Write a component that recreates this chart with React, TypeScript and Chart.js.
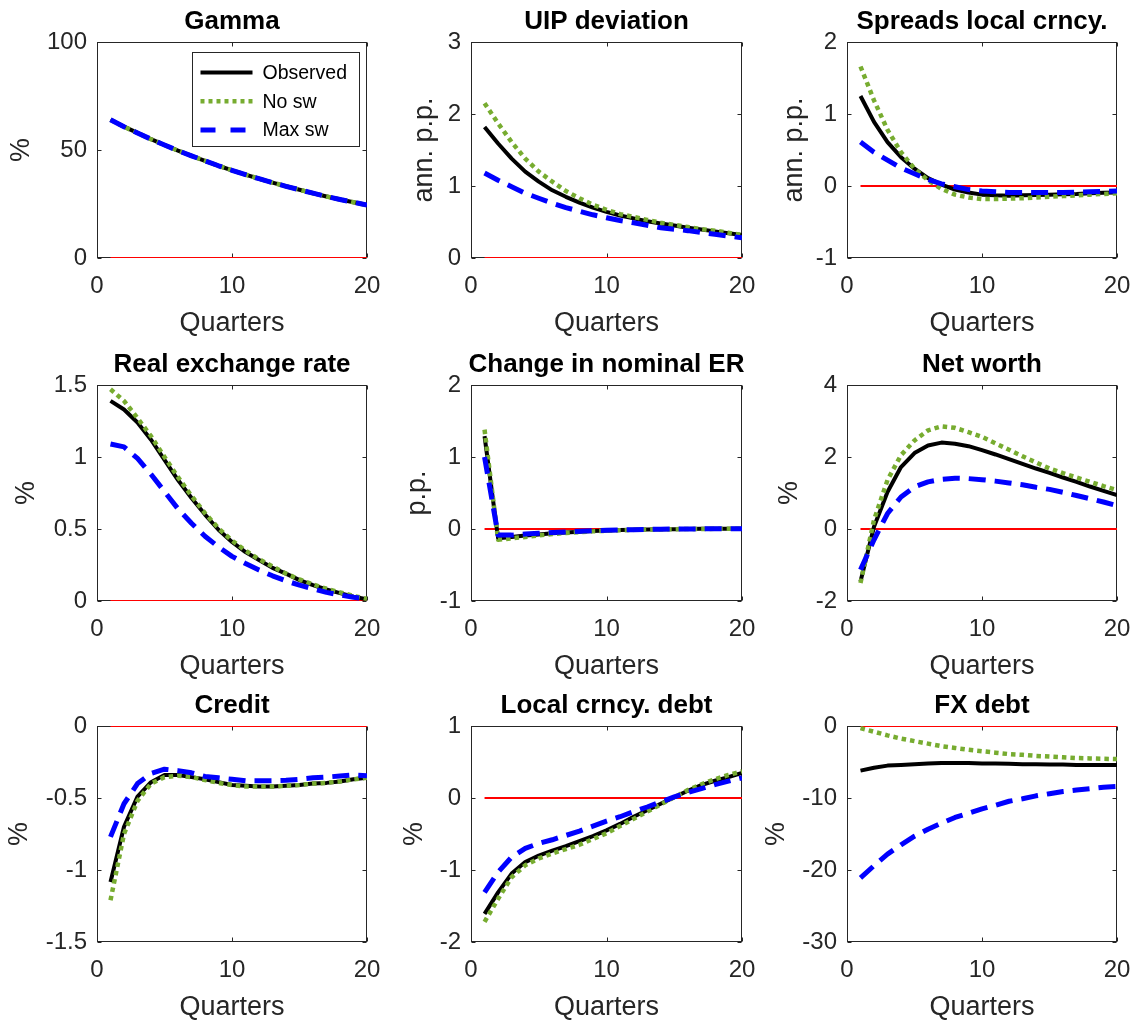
import React, { useEffect, useRef } from "react";
import { Chart, registerables } from "chart.js";

Chart.register(...registerables);

const FONT = "'Liberation Sans', Arial, Helvetica, sans-serif";
Chart.defaults.font.family = FONT;

// ---------------- DATA ----------------
const quarters = [1, 2, 3, 4, 5, 6, 7, 8, 9, 10, 11, 12, 13, 14, 15, 16, 17, 18, 19, 20];
const seriesLabels = ["Observed", "No sw", "Max sw"];

const gammaObserved = [64.0, 60.8, 57.9, 55.0, 52.3, 49.7, 47.3, 45.0, 42.7, 40.6, 38.6, 36.7, 34.9, 33.2, 31.6, 30.0, 28.5, 27.1, 25.8, 24.5];
const gammaNoSw = [64.0, 60.8, 57.9, 55.0, 52.3, 49.7, 47.3, 45.0, 42.7, 40.6, 38.6, 36.7, 34.9, 33.2, 31.6, 30.0, 28.5, 27.1, 25.8, 24.5];
const gammaMaxSw = [64.0, 60.8, 57.9, 55.0, 52.3, 49.7, 47.3, 45.0, 42.7, 40.6, 38.6, 36.7, 34.9, 33.2, 31.6, 30.0, 28.5, 27.1, 25.8, 24.5];

const uipObserved = [1.82, 1.59, 1.38, 1.2, 1.06, 0.94, 0.85, 0.77, 0.7, 0.64, 0.59, 0.55, 0.51, 0.48, 0.45, 0.42, 0.395, 0.37, 0.345, 0.32];
const uipNoSw = [2.15, 1.87, 1.61, 1.38, 1.2, 1.06, 0.93, 0.83, 0.74, 0.67, 0.61, 0.57, 0.53, 0.49, 0.46, 0.43, 0.4, 0.38, 0.35, 0.32];
const uipMaxSw = [1.18, 1.08, 0.99, 0.9, 0.83, 0.76, 0.7, 0.65, 0.6, 0.56, 0.52, 0.49, 0.455, 0.42, 0.4, 0.38, 0.355, 0.33, 0.305, 0.28];

const spreadObserved = [1.25, 0.89, 0.61, 0.4, 0.24, 0.11, 0.02, -0.05, -0.09, -0.12, -0.13, -0.135, -0.13, -0.125, -0.12, -0.115, -0.11, -0.1, -0.095, -0.09];
const spreadNoSw = [1.66, 1.19, 0.78, 0.47, 0.24, 0.08, -0.04, -0.12, -0.16, -0.18, -0.18, -0.175, -0.17, -0.16, -0.15, -0.14, -0.13, -0.12, -0.11, -0.1];
const spreadMaxSw = [0.61, 0.47, 0.36, 0.25, 0.17, 0.09, 0.03, -0.01, -0.05, -0.07, -0.08, -0.09, -0.09, -0.09, -0.09, -0.09, -0.085, -0.08, -0.075, -0.07];

const rerObserved = [1.39, 1.33, 1.24, 1.12, 0.98, 0.84, 0.715, 0.6, 0.495, 0.41, 0.34, 0.285, 0.23, 0.19, 0.145, 0.11, 0.08, 0.055, 0.03, 0.012];
const rerNoSw = [1.47, 1.39, 1.27, 1.145, 1.0, 0.86, 0.73, 0.61, 0.505, 0.42, 0.35, 0.29, 0.24, 0.19, 0.15, 0.115, 0.085, 0.06, 0.035, 0.015];
const rerMaxSw = [1.09, 1.07, 0.99, 0.88, 0.76, 0.64, 0.54, 0.45, 0.375, 0.31, 0.26, 0.215, 0.175, 0.14, 0.11, 0.085, 0.06, 0.042, 0.026, 0.013];

const nerObserved = [1.29, -0.13, -0.11, -0.09, -0.075, -0.06, -0.047, -0.037, -0.028, -0.02, -0.014, -0.01, -0.007, -0.004, -0.002, 0, 0.002, 0.003, 0.004, 0.004];
const nerNoSw = [1.38, -0.15, -0.13, -0.11, -0.09, -0.07, -0.055, -0.043, -0.033, -0.025, -0.018, -0.012, -0.008, -0.005, -0.002, 0, 0.001, 0.002, 0.003, 0.003];
const nerMaxSw = [1.0, -0.085, -0.085, -0.07, -0.06, -0.05, -0.04, -0.032, -0.025, -0.018, -0.013, -0.009, -0.006, -0.003, -0.001, 0.001, 0.002, 0.003, 0.003, 0.003];

const nwObserved = [-1.46, 0.06, 1.03, 1.72, 2.11, 2.32, 2.4, 2.37, 2.3, 2.19, 2.07, 1.94, 1.81, 1.68, 1.56, 1.43, 1.31, 1.18, 1.06, 0.94];
const nwNoSw = [-1.5, 0.25, 1.36, 2.05, 2.46, 2.74, 2.85, 2.81, 2.69, 2.56, 2.38, 2.2, 2.02, 1.85, 1.68, 1.55, 1.43, 1.31, 1.19, 1.08];
const nwMaxSw = [-1.13, -0.3, 0.43, 0.89, 1.17, 1.31, 1.38, 1.41, 1.4, 1.37, 1.33, 1.28, 1.23, 1.16, 1.1, 1.02, 0.93, 0.84, 0.75, 0.65];

const creditObserved = [-1.083, -0.7, -0.49, -0.39, -0.34, -0.34, -0.355, -0.37, -0.39, -0.41, -0.415, -0.42, -0.42, -0.415, -0.41, -0.4, -0.395, -0.385, -0.37, -0.36];
const creditNoSw = [-1.21, -0.75, -0.52, -0.4, -0.355, -0.345, -0.355, -0.375, -0.395, -0.41, -0.42, -0.42, -0.42, -0.415, -0.41, -0.4, -0.395, -0.385, -0.37, -0.36];
const creditMaxSw = [-0.77, -0.54, -0.4, -0.33, -0.3, -0.31, -0.325, -0.35, -0.36, -0.37, -0.38, -0.38, -0.38, -0.377, -0.37, -0.36, -0.355, -0.347, -0.34, -0.345];

const lcdObserved = [-1.61, -1.31, -1.05, -0.89, -0.8, -0.73, -0.67, -0.6, -0.53, -0.45, -0.36, -0.26, -0.17, -0.08, 0.01, 0.1, 0.18, 0.24, 0.29, 0.35];
const lcdNoSw = [-1.72, -1.4, -1.1, -0.935, -0.84, -0.77, -0.71, -0.65, -0.57, -0.49, -0.39, -0.29, -0.19, -0.09, 0.01, 0.11, 0.19, 0.26, 0.32, 0.37];
const lcdMaxSw = [-1.31, -1.03, -0.82, -0.7, -0.63, -0.58, -0.52, -0.46, -0.39, -0.32, -0.26, -0.19, -0.125, -0.055, 0.015, 0.075, 0.13, 0.185, 0.235, 0.28];

const fxObserved = [-6.2, -5.8, -5.5, -5.4, -5.3, -5.2, -5.15, -5.15, -5.15, -5.2, -5.2, -5.25, -5.3, -5.3, -5.35, -5.35, -5.4, -5.4, -5.4, -5.4];
const fxNoSw = [-0.3, -0.8, -1.3, -1.75, -2.1, -2.45, -2.8, -3.05, -3.3, -3.5, -3.7, -3.9, -4.0, -4.15, -4.25, -4.35, -4.45, -4.5, -4.55, -4.6];
const fxMaxSw = [-21.1, -19.4, -17.8, -16.5, -15.3, -14.35, -13.5, -12.7, -12.1, -11.5, -11.0, -10.45, -10.1, -9.7, -9.4, -9.1, -8.9, -8.7, -8.5, -8.4];

const panelTitles = ["Gamma", "UIP deviation", "Spreads local crncy.", "Real exchange rate", "Change in nominal ER", "Net worth", "Credit", "Local crncy. debt", "FX debt"];
const yLabels = ["%", "ann. p.p.", "ann. p.p.", "%", "p.p.", "%", "%", "%", "%"];
const yMins = [0, 0, -1, 0, -1, -2, -1.5, -2, -30];
const yMaxs = [100, 3, 2, 1.5, 2, 4, 0, 1, 0];
const ySteps = [50, 1, 1, 0.5, 1, 2, 0.5, 1, 10];
const xTicksStep = 10;
const xLabel = "Quarters";

const observedSeries = [gammaObserved, uipObserved, spreadObserved, rerObserved, nerObserved, nwObserved, creditObserved, lcdObserved, fxObserved];
const noSwSeries = [gammaNoSw, uipNoSw, spreadNoSw, rerNoSw, nerNoSw, nwNoSw, creditNoSw, lcdNoSw, fxNoSw];
const maxSwSeries = [gammaMaxSw, uipMaxSw, spreadMaxSw, rerMaxSw, nerMaxSw, nwMaxSw, creditMaxSw, lcdMaxSw, fxMaxSw];

// ---------------- LAYOUT / STYLE ----------------
const colLeft = [97, 471, 847];
const colWidth = [270, 271, 270];
const rowTop = [42, 385, 726];
const plotH = 216;
const SIDE = 95;
const TOPH = 42;
const BOTH = 80;
const yLabelGap = [75, 46, 52, 70, 53, 57, 77, 56, 70];
const AXIS_COLOR = "#262626";
const LABEL_SIZE = 27;

const fmt = (v: number) => String(Math.round(v * 1000) / 1000);

const framePlugin = {
  id: "matlabFrame",
  beforeDatasetsDraw(chart: any) {
    const { ctx, chartArea: a, scales } = chart;
    ctx.save();
    ctx.strokeStyle = AXIS_COLOR;
    ctx.lineWidth = 1;
    const L = Math.round(a.left) + 0.5;
    const R = Math.round(a.right) - 0.5;
    const T = Math.round(a.top) + 0.5;
    const B = Math.round(a.bottom) - 0.5;
    ctx.strokeRect(L, T, R - L, B - T);
    const tl = 4;
    ctx.beginPath();
    scales.x.ticks.forEach((t: any) => {
      const px = Math.round(scales.x.getPixelForValue(t.value)) + 0.5;
      ctx.moveTo(px, B);
      ctx.lineTo(px, B - tl);
      ctx.moveTo(px, T);
      ctx.lineTo(px, T + tl);
    });
    scales.y.ticks.forEach((t: any) => {
      const py = Math.round(scales.y.getPixelForValue(t.value)) + 0.5;
      ctx.moveTo(L, py);
      ctx.lineTo(L + tl, py);
      ctx.moveTo(R, py);
      ctx.lineTo(R - tl, py);
    });
    ctx.stroke();
    ctx.restore();
  },
};

const legendDash = [[], [4, 4], [15, 15]];

const boxLegendPlugin = {
  id: "boxLegend",
  afterDraw(chart: any) {
    const { ctx, chartArea: a } = chart;
    const w = 167;
    const h = 94;
    const left = Math.round(a.right - 8 - w) + 0.5;
    const top = Math.round(a.top + 10) + 0.5;
    ctx.save();
    ctx.fillStyle = "#ffffff";
    ctx.fillRect(left, top, w, h);
    ctx.strokeStyle = AXIS_COLOR;
    ctx.lineWidth = 1;
    ctx.strokeRect(left, top, w, h);
    chart.data.datasets.slice(0, 3).forEach((ds: any, i: number) => {
      const y = top + 20 + i * 28.8;
      ctx.beginPath();
      ctx.setLineDash(legendDash[i]);
      ctx.strokeStyle = ds.borderColor;
      ctx.lineWidth = ds.borderWidth;
      ctx.moveTo(left + 8, y);
      ctx.lineTo(left + 60, y);
      ctx.stroke();
      ctx.setLineDash([]);
      ctx.fillStyle = "#000000";
      ctx.font = `19.5px ${FONT}`;
      ctx.textBaseline = "middle";
      ctx.textAlign = "left";
      ctx.fillText(ds.label, left + 70, y + 1);
    });
    ctx.restore();
  },
};

function Panel({ idx }: { idx: number }) {
  const ref = useRef<HTMLCanvasElement>(null);
  const col = idx % 3;
  const row = Math.floor(idx / 3);
  const W = SIDE * 2 + colWidth[col];
  const H = TOPH + plotH + BOTH;
  const left = colLeft[col] - SIDE;
  const top = rowTop[row] - TOPH;

  useEffect(() => {
    if (!ref.current) return;
    const pts = (arr: number[]) => quarters.map((q, i) => ({ x: q, y: arr[i] }));
    const chart = new Chart(ref.current, {
      type: "line",
      data: {
        datasets: [
          { label: seriesLabels[0], data: pts(observedSeries[idx]), borderColor: "#000000", borderWidth: 4, order: 3, xAxisID: "x", yAxisID: "y" },
          { label: seriesLabels[1], data: pts(noSwSeries[idx]), borderColor: "#77AC30", borderWidth: 4.5, borderDash: [4.5, 4], order: 2, xAxisID: "x", yAxisID: "y" },
          { label: seriesLabels[2], data: pts(maxSwSeries[idx]), borderColor: "#0000FF", borderWidth: 5, borderDash: [17, 9], order: 1, xAxisID: "x", yAxisID: "y" },
          { label: "zero", data: quarters.map((q) => ({ x: q, y: 0 })), borderColor: "#FF0000", borderWidth: 2, order: 4, xAxisID: "x", yAxisID: "y" },
        ],
      },
      options: {
        animation: false,
        responsive: false,
        events: [],
        layout: { padding: 0 },
        elements: {
          point: { radius: 0 },
          line: { tension: 0, fill: false, borderJoinStyle: "round", borderCapStyle: "butt" },
        },
        plugins: {
          legend: { display: false },
          tooltip: { enabled: false },
          title: {
            display: true,
            text: panelTitles[idx],
            color: "#000000",
            font: { size: 26, weight: "bold", lineHeight: 1.2 },
            padding: { top: 6, bottom: 4.8 },
          },
        },
        scales: {
          x: {
            type: "linear",
            min: 0,
            max: 20,
            ticks: { stepSize: xTicksStep, padding: 14, font: { size: 24 }, color: AXIS_COLOR, maxRotation: 0, autoSkip: false },
            grid: { display: false, drawTicks: false },
            border: { display: false },
            title: { display: true, text: xLabel, color: AXIS_COLOR, font: { size: LABEL_SIZE, lineHeight: 1.1 }, padding: { top: 0, bottom: 0 } },
            afterFit: (s: any) => {
              s.height = BOTH;
            },
          },
          y: {
            type: "linear",
            position: "left",
            min: yMins[idx],
            max: yMaxs[idx],
            ticks: { stepSize: ySteps[idx], padding: 10, font: { size: 24 }, color: AXIS_COLOR, callback: (v: any) => fmt(Number(v)) },
            grid: { display: false, drawTicks: false },
            border: { display: false },
            title: {
              display: true,
              text: yLabels[idx],
              color: AXIS_COLOR,
              font: { size: LABEL_SIZE, lineHeight: 1.2 },
              padding: { top: SIDE - yLabelGap[idx] - LABEL_SIZE * 0.6, bottom: 0 },
            },
            afterFit: (s: any) => {
              s.width = SIDE;
            },
          },
          yRight: {
            type: "linear",
            position: "right",
            display: true,
            ticks: { display: false },
            grid: { display: false, drawTicks: false },
            border: { display: false },
            afterFit: (s: any) => {
              s.width = SIDE;
            },
          },
        },
      } as any,
      plugins: idx === 0 ? [framePlugin, boxLegendPlugin] : [framePlugin],
    });
    return () => chart.destroy();
  }, [idx]);

  return (
    <canvas
      ref={ref}
      width={W}
      height={H}
      style={{ position: "absolute", left, top, width: W, height: H }}
    />
  );
}

export default function App() {
  return (
    <div
      style={{
        position: "absolute",
        left: 0,
        top: 0,
        width: 1134,
        height: 1022,
        overflow: "hidden",
        background: "#ffffff",
      }}
    >
      {panelTitles.map((_, i) => (
        <Panel key={i} idx={i} />
      ))}
    </div>
  );
}
